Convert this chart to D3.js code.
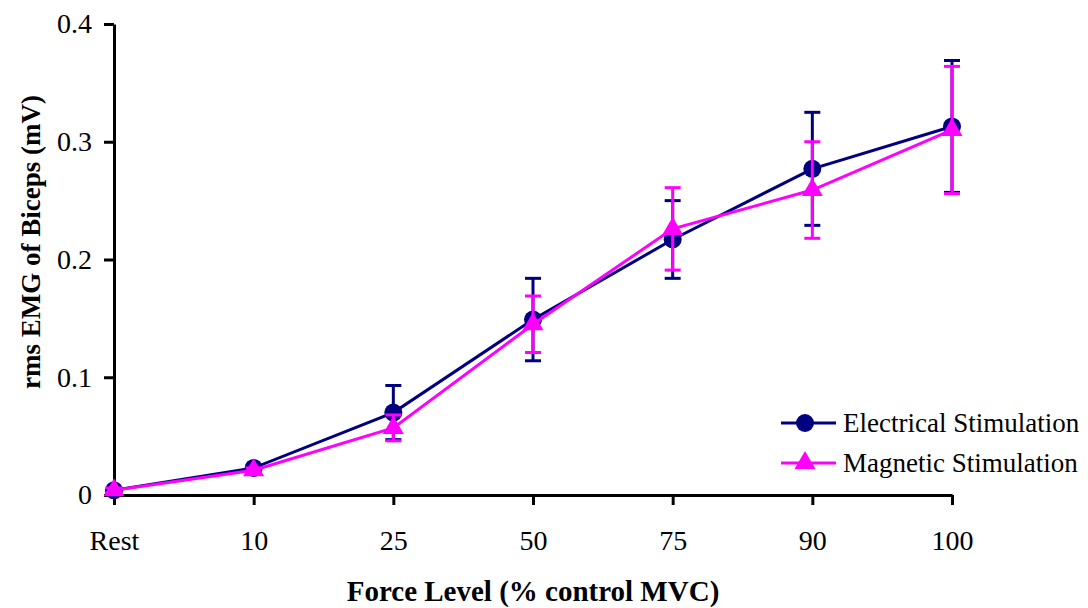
<!DOCTYPE html>
<html>
<head>
<meta charset="utf-8">
<script src="https://cdn.jsdelivr.net/npm/d3@7"></script>
<style>
  body { margin: 0; background: #fff; }
  svg { display: block; font-family: 'Liberation Serif', 'Times New Roman', serif; }
</style>
</head>
<body>
<svg width="1088" height="608"></svg>
<script>
const width = 1088
const height = 608
const margin = { top: 24, right: 136, bottom: 113, left: 114 }

const categories = ['Rest', '10', '25', '50', '75', '90', '100']
const yTicks = [0, 0.1, 0.2, 0.3, 0.4]

// rms EMG (mV) and error (+/-)
const electrical = [0.004, 0.023, 0.070, 0.149, 0.217, 0.277, 0.313]
const electricalErr = [0.002, 0.002, 0.023, 0.035, 0.033, 0.048, 0.056]
const magnetic = [0.004, 0.021, 0.057, 0.145, 0.226, 0.259, 0.310]
const magneticErr = [0.002, 0.002, 0.011, 0.024, 0.035, 0.041, 0.054]

const seriesNames = ['Electrical Stimulation', 'Magnetic Stimulation']
const colors = ['#000080', '#ff00ff']

const svg = d3.select('svg')

const x = d3.scalePoint()
  .domain(categories)
  .range([margin.left, width - margin.right])

const y = d3.scaleLinear()
  .domain([0, 0.4])
  .range([height - margin.bottom, margin.top])

// axes
svg.append('g')
  .attr('transform', `translate(0, ${y(0)})`)
  .call(d3.axisBottom(x).tickSize(10).tickSizeOuter(0).tickPadding(25))
svg.append('g')
  .attr('transform', `translate(${margin.left}, 0)`)
  .call(d3.axisLeft(y).tickValues(yTicks).tickSize(10).tickSizeOuter(0).tickPadding(12)
    .tickFormat(d => d === 0 ? '0' : d3.format('.1f')(d)))

svg.selectAll('.domain, .tick line')
  .attr('stroke', '#000')
  .attr('stroke-width', 3)
svg.selectAll('.tick text')
  .attr('fill', '#000')
  .style('font-size', '28px')
  .style('font-family', "'Liberation Serif', serif")

// axis titles
svg.append('text')
  .attr('x', (margin.left + width - margin.right) / 2)
  .attr('y', 601)
  .attr('text-anchor', 'middle')
  .style('font-size', '29px')
  .style('font-weight', 'bold')
  .text('Force Level (% control MVC)')

svg.append('text')
  .attr('transform', 'translate(40, 242) rotate(-90)')
  .attr('text-anchor', 'middle')
  .style('font-size', '27px')
  .style('font-weight', 'bold')
  .text('rms EMG of Biceps (mV)')

const triangle = d3.symbol().type(d3.symbolTriangle).size(190)

function drawSeries(values, errs, color, marker) {
  const g = svg.append('g')
  const data = values.map((v, i) => ({ cat: categories[i], v, e: errs[i] }))

  // error bars
  const eb = g.selectAll('.eb').data(data).enter().append('g')
    .attr('stroke', color).attr('stroke-width', 3)
  eb.append('line')
    .attr('x1', d => x(d.cat)).attr('x2', d => x(d.cat))
    .attr('y1', d => y(d.v + d.e)).attr('y2', d => y(d.v - d.e))
  eb.append('line')
    .attr('x1', d => x(d.cat) - 8).attr('x2', d => x(d.cat) + 8)
    .attr('y1', d => y(d.v + d.e)).attr('y2', d => y(d.v + d.e))
  eb.append('line')
    .attr('x1', d => x(d.cat) - 8).attr('x2', d => x(d.cat) + 8)
    .attr('y1', d => y(d.v - d.e)).attr('y2', d => y(d.v - d.e))

  g.append('path')
    .datum(data)
    .attr('fill', 'none')
    .attr('stroke', color)
    .attr('stroke-width', 3)
    .attr('d', d3.line().x(d => x(d.cat)).y(d => y(d.v)))

  if (marker === 'circle') {
    g.selectAll('circle').data(data).enter().append('circle')
      .attr('cx', d => x(d.cat)).attr('cy', d => y(d.v)).attr('r', 9)
      .attr('fill', color)
  } else {
    g.selectAll('.tri').data(data).enter().append('path')
      .attr('d', triangle)
      .attr('transform', d => `translate(${x(d.cat)}, ${y(d.v)})`)
      .attr('fill', color)
  }
}

drawSeries(electrical, electricalErr, colors[0], 'circle')
drawSeries(magnetic, magneticErr, colors[1], 'triangle')

// legend
const legend = svg.append('g')
seriesNames.forEach((name, i) => {
  const ly = 423 + i * 40
  legend.append('line')
    .attr('x1', 781).attr('x2', 836).attr('y1', ly).attr('y2', ly)
    .attr('stroke', colors[i]).attr('stroke-width', 3)
  if (i === 0) {
    legend.append('circle').attr('cx', 805).attr('cy', ly).attr('r', 9).attr('fill', colors[i])
  } else {
    legend.append('path').attr('d', triangle)
      .attr('transform', `translate(805, ${ly})`).attr('fill', colors[i])
  }
  legend.append('text')
    .attr('x', 843).attr('y', ly + 9)
    .style('font-size', '27px')
    .text(name)
})
</script>
</body>
</html>
